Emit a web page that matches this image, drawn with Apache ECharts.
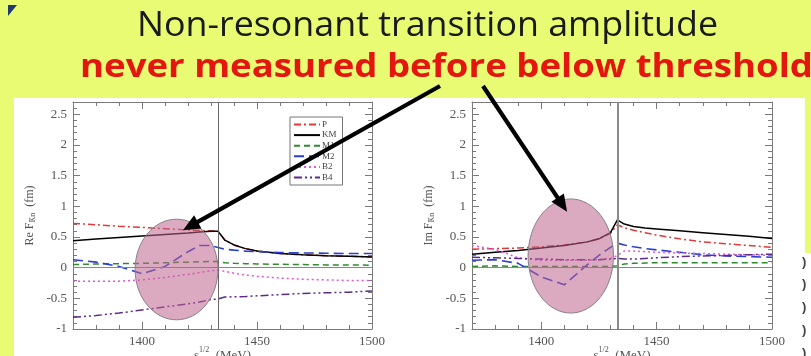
<!DOCTYPE html>
<html><head><meta charset="utf-8">
<script src="https://cdn.jsdelivr.net/npm/echarts@6/dist/echarts.min.js"></script>
<style>html,body{margin:0;padding:0;background:#e8fb72;}#c{width:811px;height:356px;}</style>
</head><body><div id="c"></div>
<script>
// ---------- data ----------
const energies = [1370,1380,1390,1400,1410,1420,1425,1430,1433,1436,1440,1445,1450,1460,1470,1480,1490,1500];
const seriesNames = ['P','KM','M1','M2','B2','B4'];
// Re F (fm)
const reP  = [0.72,0.70,0.675,0.655,0.635,0.615,0.605,0.60,0.598,0.45,0.37,0.31,0.27,0.23,0.21,0.195,0.185,0.175];
const reKM = [0.44,0.465,0.49,0.515,0.54,0.565,0.58,0.592,0.595,0.45,0.37,0.31,0.27,0.23,0.21,0.195,0.185,0.175];
const reM1 = [0.05,0.06,0.065,0.07,0.08,0.09,0.095,0.10,0.10,0.08,0.07,0.065,0.06,0.055,0.05,0.045,0.045,0.04];
const reM2 = [0.13,0.09,0.02,-0.10,0.02,0.26,0.36,0.36,0.33,0.30,0.285,0.27,0.26,0.245,0.24,0.235,0.23,0.23];
const reB2 = [-0.22,-0.22,-0.22,-0.20,-0.16,-0.11,-0.08,-0.05,-0.04,-0.06,-0.09,-0.12,-0.14,-0.17,-0.19,-0.20,-0.21,-0.21];
const reB4 = [-0.81,-0.78,-0.74,-0.69,-0.64,-0.59,-0.56,-0.52,-0.51,-0.48,-0.475,-0.47,-0.46,-0.44,-0.42,-0.41,-0.40,-0.38];
// Im F (fm)
const imP  = [0.30,0.31,0.32,0.34,0.37,0.42,0.47,0.56,0.70,0.65,0.61,0.57,0.53,0.47,0.42,0.39,0.36,0.33];
const imKM = [0.22,0.25,0.28,0.32,0.36,0.42,0.47,0.57,0.78,0.71,0.67,0.645,0.63,0.60,0.57,0.54,0.51,0.475];
const imM1 = [0.02,0.03,0.02,0.02,0.02,0.02,0.02,0.02,0.03,0.06,0.07,0.075,0.08,0.08,0.08,0.08,0.08,0.08];
const imM2 = [0.12,0.13,0.07,-0.15,-0.28,0.05,0.20,0.33,0.40,0.37,0.34,0.31,0.29,0.25,0.21,0.19,0.18,0.17];
const imB2 = [0.36,0.30,0.16,0.12,0.12,0.12,0.13,0.15,0.20,0.27,0.27,0.26,0.25,0.24,0.23,0.22,0.21,0.20];
const imB4 = [0.17,0.16,0.15,0.14,0.13,0.13,0.13,0.14,0.15,0.14,0.14,0.15,0.16,0.18,0.19,0.20,0.21,0.22];

const threshold = 1433;
const xMajorTicks = [1400,1450,1500];
const xMinorTicks = [1380,1390,1410,1420,1430,1440,1460,1470,1480,1490];
const yMajorTicks = [-1,-0.5,0,0.5,1,1.5,2,2.5];
const yMinorTicks = [-0.9,-0.8,-0.7,-0.6,-0.4,-0.3,-0.2,-0.1,0.1,0.2,0.3,0.4,0.6,0.7,0.8,0.9,1.1,1.2,1.3,1.4,1.6,1.7,1.8,1.9,2.1,2.2,2.3,2.4,2.6];
const titleLine1 = 'Non-resonant transition amplitude';
const titleLine2 = 'never measured before below threshold';
const yNames = ['{t|Re F}{s|K\u0304n}{t|  (fm)}', '{t|Im F}{s|K\u0304n}{t|  (fm)}'];
const xName = '{t|s}{p|1/2}{t|  (MeV)}';
// highlighted regions (data coords): centre energy, centre value, half-width (MeV), half-height (fm)
const ellipses = [
  {plot:0, cx:1415, cy:-0.03, rx:18, ry:0.82},
  {plot:1, cx:1412.8, cy:0.19, rx:18.5, ry:0.93}
];
const arrowTips = [
  {plot:0, x:1417.8, y:0.61},
  {plot:1, x:1411.2, y:0.91}
];

// ---------- styles ----------
const styles = {
  P:  {color:'#e03a3a', type:[7,3,2,3], width:1.5},
  KM: {color:'#000000', type:'solid', width:1.5},
  M1: {color:'#2e8b2e', type:[6,4], width:1.5},
  M2: {color:'#2b3fd0', type:[10,5], width:1.6},
  B2: {color:'#e455e4', type:[2,3], width:1.5},
  B4: {color:'#5b2a8c', type:[8,3,2,3,2,3], width:1.5}
};
const plotData = [
  {P:reP, KM:reKM, M1:reM1, M2:reM2, B2:reB2, B4:reB4},
  {P:imP, KM:imKM, M1:imM1, M2:imM2, B2:imB2, B4:imB4}
];

const serif = 'Liberation Serif';
const axisColor = '#7a7a7a';
const grids = [
  {left:73, top:102, width:299, height:227, show:false, containLabel:false, outerBoundsMode:'none'},
  {left:472, top:102, width:300, height:227, show:false, containLabel:false, outerBoundsMode:'none'}
];
const plain = v => String(v);

const xAxes = [], yAxes = [];
function xAx(g, pos, ticks, len, main, line) {
  return {
    type:'value', gridIndex:g, min:1370, max:1500, interval:10, position:pos,
    axisLine:{show:line, onZero:false, lineStyle:{color:axisColor, width:1}},
    axisTick:{show:true, inside:true, length:len, customValues:ticks, lineStyle:{color:axisColor, width:1}},
    axisLabel: main ? {show:true, customValues:xMajorTicks, formatter:plain, color:'#555', fontFamily:serif, fontSize:13, margin:6} : {show:false},
    splitLine:{show:false},
    name: main ? xName : '', nameLocation:'middle', nameGap:17, nameMoveOverlap:false,
    nameTextStyle:{rich:{t:{fontFamily:serif, fontSize:13, color:'#555', lineHeight:16, verticalAlign:'bottom'},
                         p:{fontFamily:serif, fontSize:8, color:'#555', lineHeight:16, verticalAlign:'top'}}}
  };
}
function yAx(g, pos, ticks, len, main, line) {
  return {
    type:'value', gridIndex:g, min:-1, max:2.7, interval:0.5, position:pos,
    axisLine:{show:line, onZero:false, lineStyle:{color:axisColor, width:1}},
    axisTick:{show:true, inside:true, length:len, customValues:ticks, lineStyle:{color:axisColor, width:1}},
    axisLabel: main ? {show:true, customValues:yMajorTicks, formatter:plain, color:'#555', fontFamily:serif, fontSize:13, margin:6} : {show:false},
    splitLine:{show:false},
    name: main ? yNames[g] : '', nameLocation:'middle', nameGap:36, nameRotate:90, nameMoveOverlap:false,
    nameTextStyle:{rich:{t:{fontFamily:serif, fontSize:12, color:'#555', lineHeight:15},
                         s:{fontFamily:serif, fontSize:8, color:'#555', lineHeight:15, verticalAlign:'bottom'}}}
  };
}
for (let g = 0; g < 2; g++) {
  xAxes.push(xAx(g,'bottom',xMajorTicks,7,true,true));
  xAxes.push(xAx(g,'bottom',xMinorTicks,4,false,false));
  xAxes.push(xAx(g,'top',xMajorTicks,7,false,true));
  xAxes.push(xAx(g,'top',xMinorTicks,4,false,false));
  yAxes.push(yAx(g,'left',yMajorTicks,7,true,true));
  yAxes.push(yAx(g,'left',yMinorTicks,4,false,false));
  yAxes.push(yAx(g,'right',yMajorTicks,7,false,true));
  yAxes.push(yAx(g,'right',yMinorTicks,4,false,false));
}

const series = [];
for (let g = 0; g < 2; g++) {
  seriesNames.forEach((n, k) => {
    const s = {
      name:n, type:'line', xAxisIndex:4*g, yAxisIndex:4*g,
      symbol:'none', showSymbol:false, smooth:false, animation:false,
      data: energies.map((e,i) => [e, plotData[g][n][i]]),
      lineStyle:{color:styles[n].color, type:styles[n].type, width:styles[n].width},
      itemStyle:{color:styles[n].color},
      z: 3
    };
    if (k === 0) {
      s.markLine = {
        symbol:'none', silent:true, animation:false, label:{show:false},
        data:[
          {xAxis:threshold, lineStyle:{color: g ? '#8a8a8a' : '#666', width: g ? 2 : 1, type:'solid'}},
          {yAxis:0, lineStyle:{color:'#888', width:1, type:'solid'}}
        ]
      };
    }
    series.push(s);
  });
}

const chart = echarts.init(document.getElementById('c'), null, {renderer:'canvas'});
chart.setOption({
  backgroundColor:'#e8fb72',
  animation:false,
  grid: grids,
  xAxis: xAxes,
  yAxis: yAxes,
  legend: {
    data: seriesNames, left:290, top:117, orient:'vertical',
    itemWidth:26, itemHeight:8, itemGap:1.6,
    itemStyle:{opacity:0},
    textStyle:{fontFamily:serif, fontSize:9, color:'#444', padding:[0,0,0,-3]},
    borderColor:'#777', borderWidth:1, padding:[3,6,3,3], backgroundColor:'#fff'
  },
  series: series
});

// ---------- annotations ----------
function textScale(text, font, target) {
  const ctx = document.createElement('canvas').getContext('2d');
  ctx.font = font;
  return target / ctx.measureText(text).width;
}
const f1 = '34px "Open Sans"';
const f2 = 'bold 33px "Open Sans"';
const s1 = textScale(titleLine1, f1, 581);
const s2 = textScale(titleLine2, f2, 733);

const graphics = [
  {type:'rect', shape:{x:14, y:98, width:791, height:258}, style:{fill:'#fff'}, z:-10, silent:true},
  {type:'rect', shape:{x:773, y:253, width:38, height:103}, style:{fill:'#fff'}, z:-10, silent:true},
  {type:'polygon', shape:{points:[[8,5],[17,5],[8,16]]}, style:{fill:'#203a70'}, z:-9, silent:true},
  {type:'text', x:137, y:26, scaleX:s1, style:{text:titleLine1, font:f1, fill:'#1a1a1a', textAlign:'left', verticalAlign:'middle'}, z:10},
  {type:'text', x:80, y:68, scaleX:s2, style:{text:titleLine2, font:f2, fill:'#e3170f', textAlign:'left', verticalAlign:'middle'}, z:10}
];
[262,284,307,330,353].forEach(yy => graphics.push(
  {type:'text', x:802, y:yy, style:{text:')', font:'bold 13px "Liberation Sans"', fill:'#444', verticalAlign:'middle'}, z:10}
));
ellipses.forEach(e => {
  const fnd = {xAxisIndex:4*e.plot, yAxisIndex:4*e.plot};
  const c = chart.convertToPixel(fnd, [e.cx, e.cy]);
  const p = chart.convertToPixel(fnd, [e.cx + e.rx, e.cy + e.ry]);
  graphics.push({type:'ellipse', shape:{cx:c[0], cy:c[1], rx:Math.abs(p[0]-c[0]), ry:Math.abs(c[1]-p[1])},
    style:{fill:'rgba(189,99,140,0.55)', stroke:'#8a7f86', lineWidth:1}, z:50, silent:true});
});
const arrowStarts = [[440,86],[483,86]];
arrowTips.forEach((a, i) => {
  const tip = chart.convertToPixel({xAxisIndex:4*a.plot, yAxisIndex:4*a.plot}, [a.x, a.y]);
  const st = arrowStarts[i];
  const dx = tip[0]-st[0], dy = tip[1]-st[1], L = Math.hypot(dx,dy);
  const ux = dx/L, uy = dy/L, hl = 17, hw = 7.5;
  const bx = tip[0]-ux*hl, by = tip[1]-uy*hl;
  graphics.push({type:'line', shape:{x1:st[0], y1:st[1], x2:bx+ux*2, y2:by+uy*2}, style:{stroke:'#000', lineWidth:4.2}, z:60, silent:true});
  graphics.push({type:'polygon', shape:{points:[[tip[0],tip[1]],[bx-uy*hw,by+ux*hw],[bx+uy*hw,by-ux*hw]]}, style:{fill:'#000'}, z:60, silent:true});
});
chart.setOption({graphic: graphics});
</script>
</body></html>
